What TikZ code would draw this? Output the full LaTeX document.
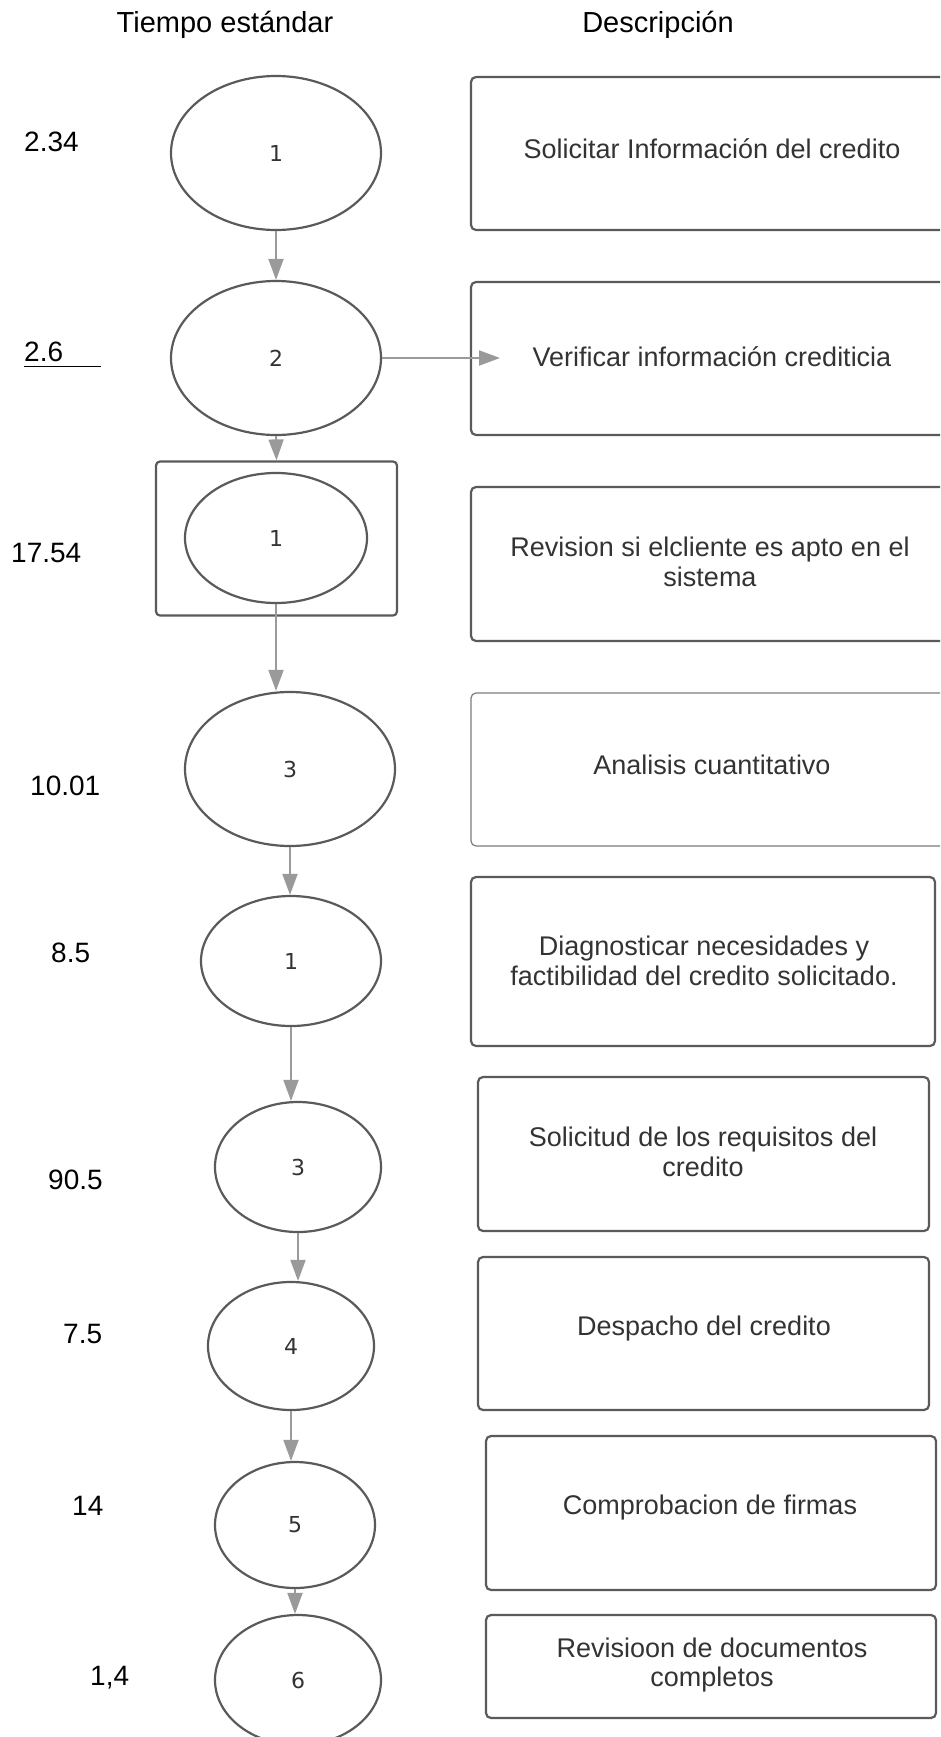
\documentclass[tikz,border=0pt]{standalone}
\usepackage{fontspec}
\setmainfont{Liberation Sans}
\newfontfamily\digitfont{DejaVu Sans}
\usetikzlibrary{shapes.geometric,arrows.meta}
\definecolor{strokec}{HTML}{5A5A5A}
\definecolor{arrowc}{HTML}{9A9A9A}
\definecolor{textc}{HTML}{333333}
\tikzset{
  oval/.style={ellipse, draw=strokec, line width=2.2pt, inner sep=0pt,
    font=\digitfont\fontsize{22}{26}\selectfont, text=textc},
  desc/.style={draw=strokec, line width=2.2pt, rounded corners=5pt, inner sep=0pt},
  descthin/.style={draw=strokec!80, line width=1.2pt, rounded corners=5pt, inner sep=0pt},
  desctext/.style={align=center, text=textc, font=\fontsize{27}{29.5}\selectfont, inner sep=0pt},
  timelbl/.style={anchor=west, inner sep=0pt, font=\fontsize{28}{32}\selectfont},
  header/.style={inner sep=0pt, font=\fontsize{29}{33}\selectfont},
  flow/.style={draw=arrowc, line width=2pt, -{Triangle[width=15pt,length=21pt]}}
}
\begin{document}
\begin{tikzpicture}[x=1pt,y=-1pt]
\useasboundingbox (0,0) rectangle (940,1737);
\clip (0,0) rectangle (940,1737);
% headers
\node[header] (h1) at (225,25) {Tiempo estándar};
\node[header] (h2) at (658,25) {Descripción};
% ellipses
\node[oval, minimum width=210pt, minimum height=154pt] (E1) at (276,153) {1};
\node[oval, minimum width=210pt, minimum height=154pt] (E2) at (276,358) {2};
\node[desc, minimum width=241pt, minimum height=154pt, rounded corners=4pt] (SQ) at (276.5,538.5) {};
\node[oval, minimum width=182pt, minimum height=130pt] (E3) at (276,538) {1};
\node[oval, minimum width=210pt, minimum height=154pt] (E4) at (290,769) {3};
\node[oval, minimum width=180pt, minimum height=130pt] (E5) at (291,961) {1};
\node[oval, minimum width=166pt, minimum height=130pt] (E6) at (298,1167) {3};
\node[oval, minimum width=166pt, minimum height=128pt] (E7) at (291,1346) {4};
\node[oval, minimum width=160pt, minimum height=126pt] (E8) at (295,1525) {5};
\node[oval, minimum width=166pt, minimum height=130pt] (E9) at (298,1680) {6};
% boxes
\node[desc, minimum width=489pt, minimum height=153pt] (B1) at (715.5,153.5) {};
\node[desc, minimum width=489pt, minimum height=153pt] (B2) at (715.5,358.5) {};
\node[desc, minimum width=489pt, minimum height=154pt] (B3) at (715.5,564) {};
\node[descthin, minimum width=489pt, minimum height=153pt] (B4) at (715.5,769.5) {};
\node[desc, minimum width=464pt, minimum height=169pt] (B5) at (703,961.5) {};
\node[desc, minimum width=451pt, minimum height=154pt] (B6) at (703.5,1154) {};
\node[desc, minimum width=451pt, minimum height=153pt] (B7) at (703.5,1333.5) {};
\node[desc, minimum width=450pt, minimum height=154pt] (B8) at (711,1513) {};
\node[desc, minimum width=450pt, minimum height=103pt] (B9) at (711,1666.5) {};
% box texts
\node[desctext] (T1) at (712,149) {Solicitar Información del credito};
\node[desctext] (T2) at (712,357) {Verificar información crediticia};
\node[desctext] (T3) at (710,562) {Revision si elcliente es apto en el\\sistema};
\node[desctext] (T4) at (712,765) {Analisis cuantitativo};
\node[desctext] (T5) at (704,961) {Diagnosticar necesidades y\\factibilidad del credito solicitado.};
\node[desctext] (T6) at (703,1152) {Solicitud de los requisitos del\\credito};
\node[desctext] (T7) at (704,1329) {Despacho del credito};
\node[desctext] (T8) at (710,1508) {Comprobacion de firmas};
\node[desctext] (T9) at (712,1665) {Revisioon de documentos\\completos};
% time labels
\node[timelbl] (L1) at (24,142) {2.34};
\node[timelbl] (L2) at (24,352) {2.6};
\node[timelbl] (L3) at (11,553) {17.54};
\node[timelbl] (L4) at (30,786) {10.01};
\node[timelbl] (L5) at (51,953) {8.5};
\node[timelbl] (L6) at (48,1180) {90.5};
\node[timelbl] (L7) at (63,1334) {7.5};
\node[timelbl] (L8) at (72,1506) {14};
\node[timelbl] (L9) at (90,1678) {1,4};
\draw[line width=1pt] (24,366) -- (101,366);
% connectors
\coordinate (tip2) at (500,358);
\draw[flow] (E1.south) -- (E2.north);
\draw[flow] (E2.east) -- (tip2);
\draw[flow] (E2.south) -- (SQ.north);
\draw[flow] (E3.south) -- (E3.south |- E4.north);
\draw[flow] (E4.south) -- (E4.south |- E5.north);
\draw[flow] (E5.south) -- (E5.south |- E6.north);
\draw[flow] (E6.south) -- (E6.south |- E7.north);
\draw[flow] (E7.south) -- (E7.south |- E8.north);
\draw[flow] (E8.south) -- (E8.south |- E9.north);
\end{tikzpicture}
\end{document}
